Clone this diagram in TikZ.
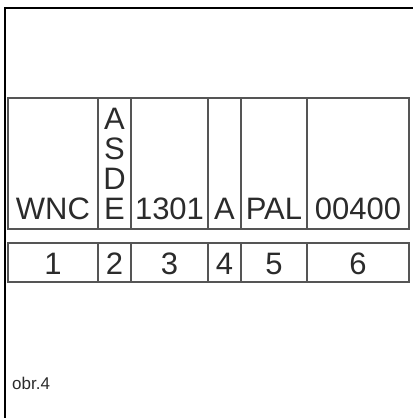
\documentclass[tikz,border=0pt]{standalone}
\usepackage{fontspec}
\setmainfont{Liberation Sans}
\definecolor{cellline}{HTML}{555555}
\definecolor{inktext}{HTML}{2b2b2b}
\begin{document}
\begin{tikzpicture}[x=1pt,y=1pt,
  cell/.style={draw=cellline,line width=1.3pt},
  big/.style={font=\fontsize{31}{30}\selectfont,text=inktext,anchor=base,inner sep=0pt},
  caption/.style={font=\fontsize{17}{20}\selectfont,text=inktext,anchor=base west,inner sep=0pt}]
\useasboundingbox (0,0) rectangle (413,418);
% frame
\draw[line width=2pt] (4.5,0) -- (4.5,410) -- (413,410);
% code fields and their numbers
\foreach \xa/\xb/\code/\num in {8/98/WNC/1, 98/131/E/2, 131/208/1301/3,
                                208/241/A/4, 241/307/PAL/5, 307/409/00400/6} {
  \draw[cell] (\xa,189) rectangle (\xb,320);
  \draw[cell] (\xa,136) rectangle (\xb,175);
  \node[big] (code\num) at ({(\xa+\xb)/2},198) {\code};
  \node[big] (num\num) at ({(\xa+\xb)/2},143) {\num};
}
% vertical letters above E
\foreach \ch/\yb in {A/288, S/258, D/228}
  \node[big] (type\ch) at (114.5,\yb) {\ch};
\node[caption] (fig) at (12,390-362) {obr.4};
\end{tikzpicture}
\end{document}
